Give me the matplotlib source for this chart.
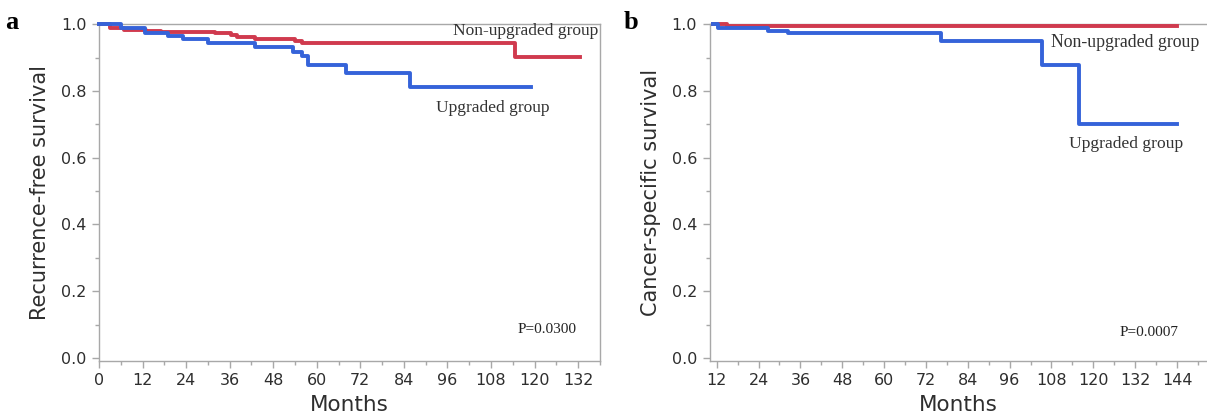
import matplotlib.pyplot as plt
from matplotlib.ticker import MultipleLocator

# Panel a: recurrence-free survival
rfs_non_months = [0, 3, 7, 13, 17, 32, 36.5, 38, 43, 54, 56, 114.6, 132.5]
rfs_non_surv = [1.0, 0.987, 0.983, 0.98, 0.976, 0.972, 0.966, 0.96, 0.955, 0.95, 0.943, 0.902, 0.902]
rfs_up_months = [0, 6.2, 12.7, 19.1, 23.2, 30.1, 43, 53.5, 55.8, 57.6, 68, 85.7, 119]
rfs_up_surv = [1.0, 0.989, 0.973, 0.965, 0.955, 0.943, 0.93, 0.918, 0.905, 0.877, 0.855, 0.812, 0.812]

# Panel b: cancer-specific survival
css_non_months = [11, 15, 144]
css_non_surv = [1.0, 0.994, 0.994]
css_up_months = [11, 12.3, 26.8, 32.4, 76.3, 105.2, 115.8, 144]
css_up_surv = [1.0, 0.987, 0.98, 0.972, 0.948, 0.877, 0.70, 0.70]

RED = '#d03a4e'
BLUE = '#3563d9'
GREY = '#a8a8a8'

fig = plt.figure(figsize=(12.07, 4.16), dpi=100)
ax1 = fig.add_axes([0.082, 0.133, 0.415, 0.809])
ax2 = fig.add_axes([0.588, 0.133, 0.412, 0.809])


def style_axis(ax, xlim, xticks, ylabel):
    ax.set_xlim(*xlim)
    ax.set_ylim(-0.008, 1.0)
    ax.set_xticks(xticks)
    ax.xaxis.set_minor_locator(MultipleLocator(6))
    ax.set_yticks([0.0, 0.2, 0.4, 0.6, 0.8, 1.0])
    ax.yaxis.set_minor_locator(MultipleLocator(0.1))
    ax.set_yticklabels(['0.0', '0.2', '0.4', '0.6', '0.8', '1.0'])
    for s in ax.spines.values():
        s.set_color(GREY)
        s.set_linewidth(1.0)
    ax.tick_params(which='major', length=5, width=1, color=GREY, labelsize=11.5,
                   labelcolor='#2e2e2e', pad=4)
    ax.tick_params(which='minor', length=3, width=1, color=GREY)
    ax.set_xlabel('Months', fontsize=15.5, color='#2e2e2e', labelpad=5)
    ax.set_ylabel(ylabel, fontsize=15, color='#2e2e2e', labelpad=8)


ax1.step(rfs_non_months, rfs_non_surv, where='post', color=RED, lw=2.8, clip_on=False, zorder=3)
ax1.step(rfs_up_months, rfs_up_surv, where='post', color=BLUE, lw=2.8, clip_on=False, zorder=4)
style_axis(ax1, (0, 138), list(range(0, 133, 12)), 'Recurrence-free survival')

ax2.step(css_non_months, css_non_surv, where='post', color=RED, lw=2.8, clip_on=False, zorder=3)
ax2.step(css_up_months, css_up_surv, where='post', color=BLUE, lw=2.8, clip_on=False, zorder=4)
style_axis(ax2, (10, 152.6), list(range(12, 145, 12)), 'Cancer-specific survival')
ax2.spines['right'].set_visible(False)

serif = 'Liberation Serif'
ax1.text(137.5, 0.978, 'Non-upgraded group', ha='right', va='center', fontsize=12.5,
         family=serif, color='#333333')
ax1.text(108.5, 0.75, 'Upgraded group', ha='center', va='center', fontsize=12.5,
         family=serif, color='#333333')
ax1.text(131.5, 0.085, 'P=0.0300', ha='right', va='center', fontsize=11,
         family=serif, color='#222222')

ax2.text(150.5, 0.945, 'Non-upgraded group', ha='right', va='center', fontsize=12.8,
         family=serif, color='#333333')
ax2.text(129.5, 0.64, 'Upgraded group', ha='center', va='center', fontsize=12.6,
         family=serif, color='#333333')
ax2.text(144.5, 0.075, 'P=0.0007', ha='right', va='center', fontsize=11,
         family=serif, color='#222222')

fig.text(0.004, 0.93, 'a', fontsize=19, fontweight='bold', family=serif)
fig.text(0.517, 0.93, 'b', fontsize=19, fontweight='bold', family=serif)

fig.savefig('out.png', dpi=100)
